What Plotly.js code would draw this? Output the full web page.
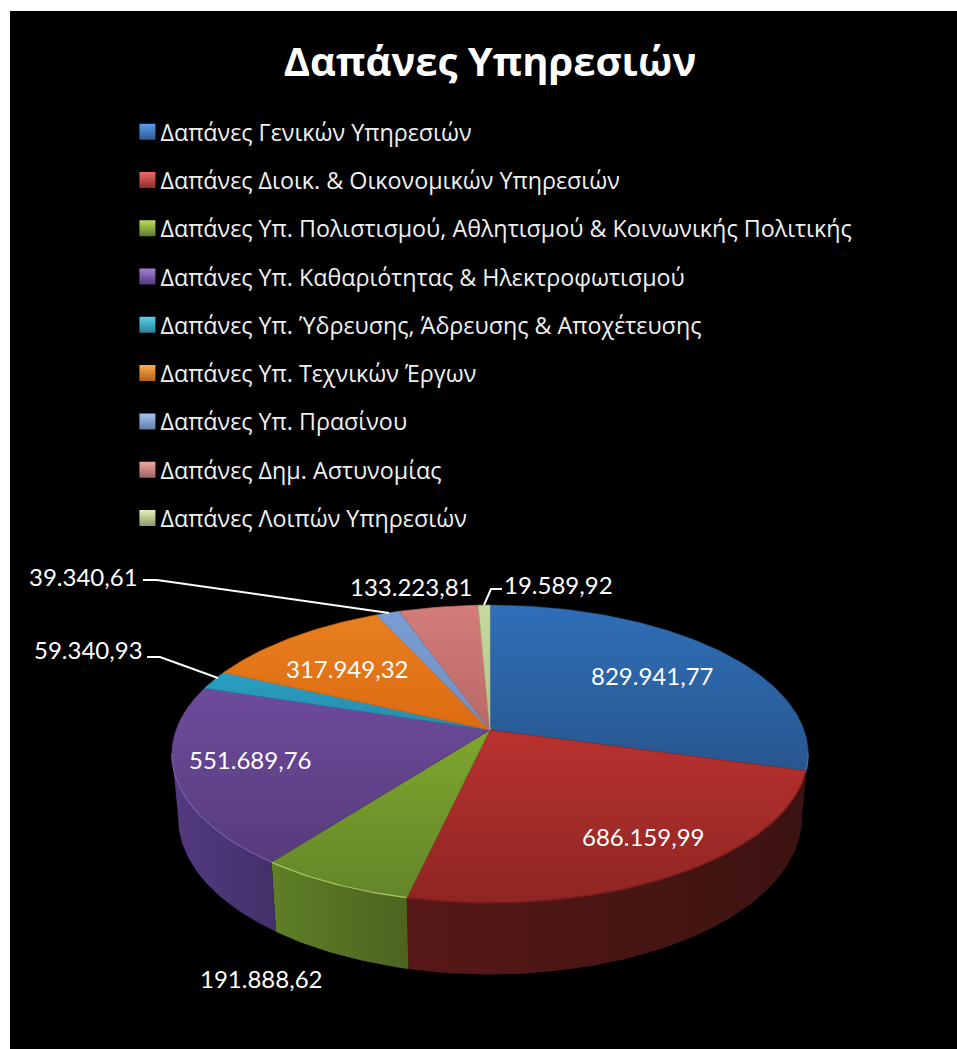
<!DOCTYPE html>
<html><head><meta charset="utf-8">
<script src="https://cdn.plot.ly/plotly-3.0.1.min.js"></script>
<style>html,body{margin:0;padding:0;background:#fff}#chart{width:957px;height:1049px}</style>
</head><body><div id="chart"></div>
<script>
const categories = [
  "Δαπάνες Γενικών Υπηρεσιών",
  "Δαπάνες Διοικ. & Οικονομικών Υπηρεσιών",
  "Δαπάνες Υπ. Πολιστισμού, Αθλητισμού & Κοινωνικής Πολιτικής",
  "Δαπάνες Υπ. Καθαριότητας & Ηλεκτροφωτισμού",
  "Δαπάνες Υπ. Ύδρευσης, Άδρευσης & Αποχέτευσης",
  "Δαπάνες Υπ. Τεχνικών Έργων",
  "Δαπάνες Υπ. Πρασίνου",
  "Δαπάνες Δημ. Αστυνομίας",
  "Δαπάνες Λοιπών Υπηρεσιών"
];
const values = [829941.77, 686159.99, 191888.62, 551689.76, 59340.93, 317949.32, 39340.61, 133223.81, 19589.92];
const chartTitle = "Δαπάνες Υπηρεσιών";

// styles
const topLight = ["#2f6fb8","#b9322f","#7fa62e","#6e4b9c","#27a0c4","#e8801f","#7a9ed4","#d47d7b","#c6d89e"];
const topDark  = ["#28568f","#8e2522","#64862a","#573b7c","#2a8aa8","#dd6a12","#7090c4","#b86866","#b0c48a"];
const wallLight= ["#2a4a78","#571817","#5f7f26","#523a80","#1f6a80","#8f4a10","#4f6a90","#7a4a48","#75855a"];
const wallDark = ["#1f3a5f","#3c1311","#4b6420","#42306a","#1a5566","#6f3a0c","#3f5575","#5f3a38","#5f6d48"];
const rimColors= ["#3a70b0","#7a1c1a","#a8c860","#7a5cae","#40a8c8","#e8902f","#90a8d8","#d89090","#d0e0a8"];
const legendLight = ["#5b9bf0","#f06a66","#b8dc5a","#a480d8","#5ad0ee","#ffa850","#a8c4f0","#f0a8a6","#e4f2b8"];
const legendDark  = ["#2f5a90","#8a2f2c","#5f7a2c","#50397c","#2b7f96","#b0611a","#5f7ba8","#9f6360","#8c9a6c"];
// label placement, one per category, and elbow leaders
const labelAnchors = [[652,675],[643,836],[261,978],[250,759],[88,649],[347,668],[83,576],[411,586],[558,584]];
const leaders = ["M143,580 L157,580 L389,613","M147,657 L160,657 L218,678","M502,589 L491,589 L484,605"];

// projection of the tilted disc
const cx=490, apexY=730, R=314, B=145, P=0.161, wallH=63, wallK=0.98;
function project(deg, plane){
  const t=deg*Math.PI/180, u=Math.sin(t), v=-Math.cos(t), s=1/(1-P*v);
  if(plane==='bottom') return [cx+wallK*R*u*s, apexY+wallH*s+wallK*B*v*s];
  return [cx+R*u*s, apexY+B*v*s];
}
function arc(a,b,plane){
  const n=Math.max(2,Math.ceil(Math.abs(b-a))), pts=[];
  for(let i=0;i<=n;i++) pts.push(project(a+(b-a)*i/n,plane));
  return pts;
}
const total=values.reduce((a,b)=>a+b,0);
let acc=0;
const spans=values.map(v=>{const a=acc/total*360; acc+=v; return [a,acc/total*360];});
function fmt(v){
  const [i,d]=v.toFixed(2).split('.');
  return i.replace(/\B(?=(\d{3})+$)/g,'.')+','+d;
}
const traces=[];
const front=[99,261];
spans.forEach((sp,i)=>{
  const a=Math.max(sp[0],front[0]), b=Math.min(sp[1],front[1]);
  if(b<=a) return;
  const pts=arc(a,b,'top').concat(arc(b,a,'bottom'));
  pts.push(pts[0]);
  traces.push({type:'scatter',mode:'lines',x:pts.map(p=>p[0]),y:pts.map(p=>p[1]),fill:'toself',
    line:{width:0,color:wallDark[i]},
    fillgradient:{type:'horizontal',colorscale:[[0,wallLight[i]],[1,wallDark[i]]]},
    showlegend:false,hoverinfo:'skip'});
});
spans.forEach((sp,i)=>{
  const pts=[[cx,apexY]].concat(arc(sp[0],sp[1],'top'));
  pts.push(pts[0]);
  traces.push({type:'scatter',mode:'lines',x:pts.map(p=>p[0]),y:pts.map(p=>p[1]),fill:'toself',
    line:{width:0.6,color:topDark[i]},
    fillgradient:{type:'vertical',colorscale:[[0,topDark[i]],[1,topLight[i]]]},
    showlegend:false,name:categories[i],hoverinfo:'name+text',text:fmt(values[i])});
});
spans.forEach((sp,i)=>{
  const a=Math.max(sp[0],front[0]), b=Math.min(sp[1],front[1]);
  if(b<=a) return;
  const pts=arc(a,b,'top');
  traces.push({type:'scatter',mode:'lines',x:pts.map(p=>p[0]),y:pts.map(p=>p[1]),
    line:{width:1.2,color:rimColors[i]},showlegend:false,hoverinfo:'skip'});
});
categories.forEach((c,i)=>{
  traces.push({type:'scatter',mode:'markers',x:[null],y:[null],name:c,legendgroup:'g'+i,
    marker:{symbol:'square',size:16,color:legendLight[i],
      gradient:{type:'vertical',color:legendDark[i]}}});
});
const labelFont={family:'Lato, "Open Sans", sans-serif',size:24,color:'#fff'};
const layout={
  width:957,height:1049,
  margin:{l:10,t:11,r:0,b:0,pad:0,autoexpand:false},
  paper_bgcolor:'#ffffff',plot_bgcolor:'#000000',
  title:{text:chartTitle,x:(490-10)/947,xanchor:'center',xref:'paper',yref:'container',y:1-62/1049,yanchor:'middle',
    font:{family:'"Open Sans", sans-serif',size:40,color:'#fff',weight:700}},
  xaxis:{range:[10,957],visible:false,fixedrange:true},
  yaxis:{range:[1049,11],visible:false,fixedrange:true},
  showlegend:true,
  legend:{x:0.1166,xanchor:'left',y:1-(110-11)/1038,yanchor:'top',bgcolor:'rgba(0,0,0,0)',
    font:{family:'"Open Sans", sans-serif',size:23.3,color:'#f0f0f0'},tracegroupgap:15,itemclick:false,itemdoubleclick:false},
  annotations:values.map((v,i)=>({x:labelAnchors[i][0],y:labelAnchors[i][1],xref:'x',yref:'y',text:fmt(v),showarrow:false,font:labelFont})),
  shapes:leaders.map(d=>({type:'path',path:d,xref:'x',yref:'y',line:{color:'#fff',width:2},layer:'above'}))
};
Plotly.newPlot('chart',traces,layout,{displayModeBar:false}).then(gd=>{
  // the library keeps a fixed gap after the swatch; close it to the reference's
  gd.querySelectorAll('.legend .legendpoints').forEach(g=>g.setAttribute('transform','translate(7,0)'));
});
</script></body></html>
